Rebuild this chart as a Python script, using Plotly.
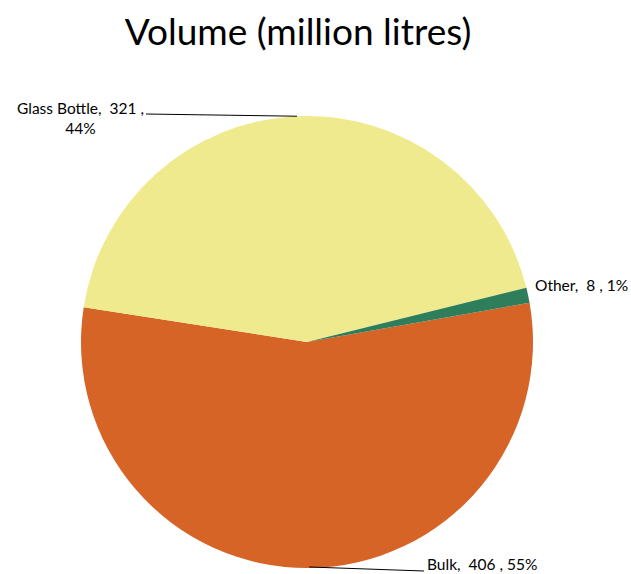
import math
import plotly.graph_objects as go

categories = ["Bulk", "Glass Bottle", "Other"]
volumes = [406, 321, 8]
colors = ["#D66426", "#F0EA8E", "#2E7D5B"]

W, H = 631, 574
CX, CY, R = 307, 342, 226
ROTATION = 80  # first slice starts 80 degrees clockwise from 12 o'clock


def px(x):
    return x / W


def py(y):
    return 1 - y / H


total = sum(volumes)
pcts = [round(v / total * 100) for v in volumes]

fig = go.Figure(
    go.Pie(
        labels=categories,
        values=volumes,
        sort=False,
        direction="clockwise",
        rotation=ROTATION,
        marker=dict(colors=colors, line=dict(width=0)),
        textinfo="none",
        hoverinfo="label+value+percent",
        showlegend=False,
        domain=dict(x=[px(CX - R), px(CX + R)], y=[py(CY + R), py(CY - R)]),
    )
)

# mid-angle of each slice on the rim (screen coords)
mids = []
acc = 0
for v in volumes:
    mid = ROTATION + (acc + v / 2) / total * 360  # degrees clockwise from 12 o'clock
    a = math.radians(mid)
    mids.append((CX + R * math.sin(a), CY - R * math.cos(a)))
    acc += v

font = dict(family="Lato, sans-serif", size=15.5, color="#000000")

# label placement (pixel anchors)
label_pos = {
    "Glass Bottle": dict(x=80, y=118, xanchor="center", yanchor="middle",
                         text=f"Glass Bottle,  {volumes[1]} ,<br>{pcts[1]}%"),
    "Other": dict(x=533, y=285, xanchor="left", yanchor="middle",
                  text=f"Other,  {volumes[2]} , {pcts[2]}%"),
    "Bulk": dict(x=425, y=564, xanchor="left", yanchor="middle",
                 text=f"Bulk,  {volumes[0]} , {pcts[0]}%"),
}

annotations = []
for k, d in label_pos.items():
    annotations.append(dict(
        x=px(d["x"]), y=py(d["y"]), xref="paper", yref="paper",
        xanchor=d["xanchor"], yanchor=d["yanchor"], text=d["text"],
        showarrow=False, font=font, align="center",
    ))

shapes = []
# leader lines
gx, gy = mids[1]
shapes.append(dict(type="line", xref="paper", yref="paper",
                   x0=px(146), y0=py(114), x1=px(gx), y1=py(gy),
                   line=dict(color="#000000", width=1)))
bx, by = mids[0]
shapes.append(dict(type="line", xref="paper", yref="paper",
                   x0=px(bx), y0=py(by - 1), x1=px(424), y1=py(571),
                   line=dict(color="#000000", width=1)))

fig.update_layout(
    width=W, height=H,
    margin=dict(l=0, r=0, t=0, b=0),
    paper_bgcolor="#FFFFFF",
    plot_bgcolor="#FFFFFF",
    title=dict(text="Volume (million litres)", x=px(298), xanchor="center",
               y=py(32), yanchor="middle", yref="container",
               font=dict(family="Lato, sans-serif", size=37, color="#000000")),
    annotations=annotations,
    shapes=shapes,
)

fig.write_html("out.html")
